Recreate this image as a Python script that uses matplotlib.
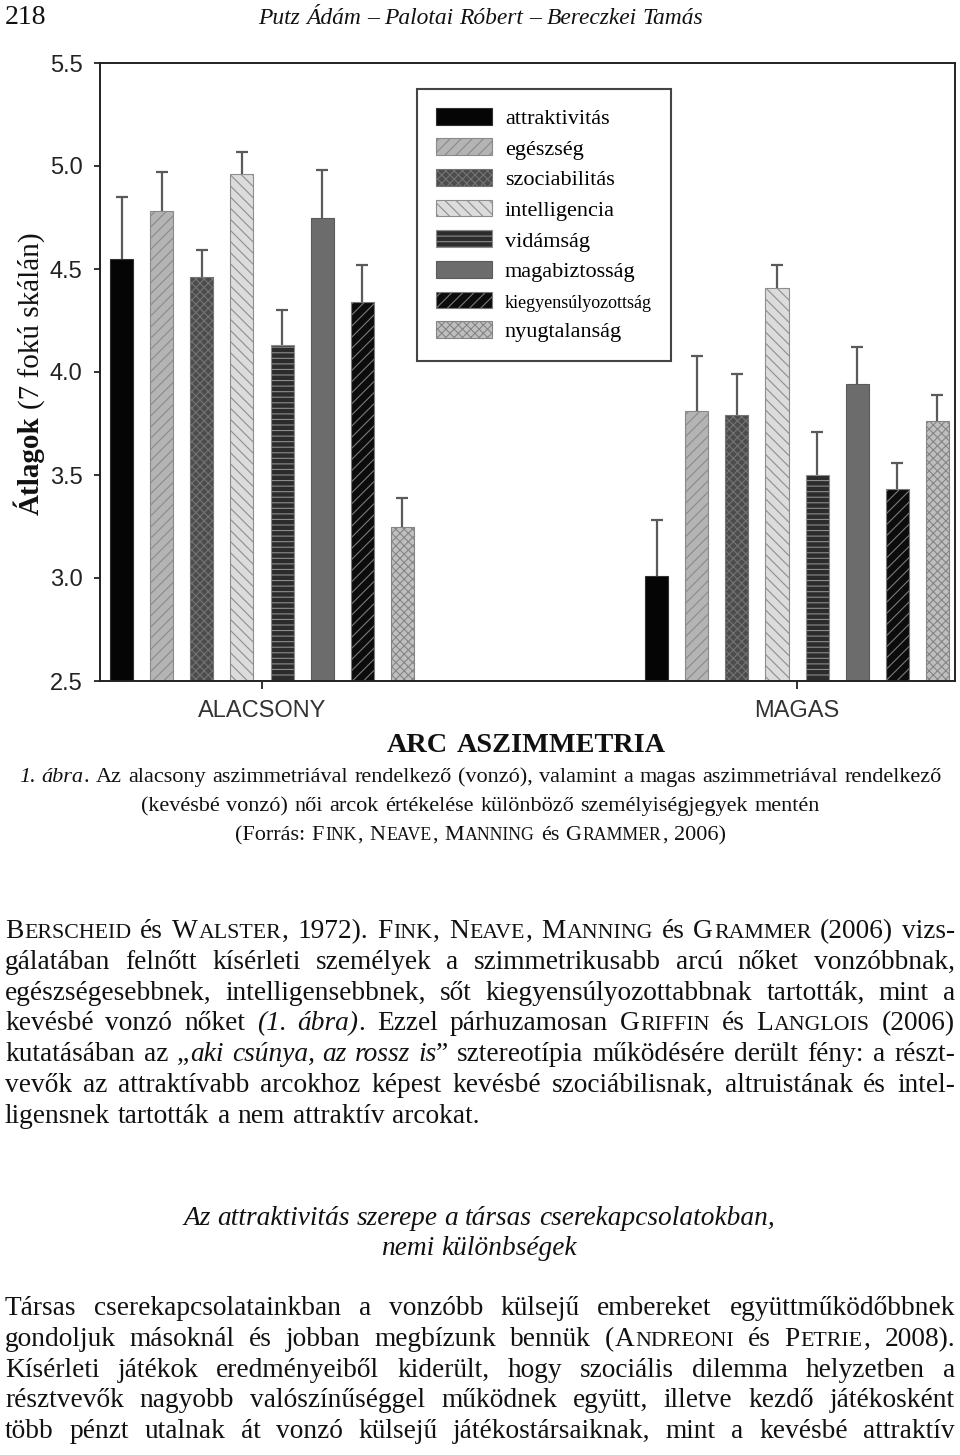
import matplotlib.pyplot as plt
from matplotlib import font_manager
import numpy as np

W, H = 960, 1455
PX = 100 / 72
SERIF = 'Liberation Serif'
SANS = 'Liberation Sans'
INK = '#111111'

# chart data
traits = ['attraktivitás', 'egészség', 'szociabilitás', 'intelligencia',
          'vidámság', 'magabiztosság', 'kiegyensúlyozottság', 'nyugtalanság']
groups = ['ALACSONY', 'MAGAS']
alacsony = [4.55, 4.78, 4.46, 4.96, 4.13, 4.75, 4.34, 3.25]
alacsony_err = [0.30, 0.19, 0.13, 0.11, 0.17, 0.23, 0.18, 0.14]
magas = [3.01, 3.81, 3.79, 4.41, 3.50, 3.94, 3.43, 3.76]
magas_err = [0.27, 0.27, 0.20, 0.11, 0.21, 0.18, 0.13, 0.13]
yticks = [2.5, 3.0, 3.5, 4.0, 4.5, 5.0, 5.5]

faces = ['#050505', '#b4b4b4', '#4c4c4c', '#dcdcdc', '#2c2c2c', '#6c6c6c', '#0c0c0c', '#bfbfbf']
hatch_cols = ['#303030', '#8a8a8a', '#747474', '#8e8e8e', '#8c8c8c', '#5a5a5a', '#7a7a7a', '#858585']
hatches = [None, '///', 'xxxx', '\\\\\\', '---', None, '///', 'xxxx']

# page text
N, I, SC = 'n', 'i', 'sc'
header = 'Putz Ádám – Palotai Róbert – Bereczkei Tamás'
caption = [
    [('1. ábra', I), ('. Az alacsony aszimmetriával rendelkező (vonzó), valamint a magas aszimmetriával rendelkező', N)],
    [('(kevésbé vonzó) női arcok értékelése különböző személyiségjegyek mentén', N)],
    [('(Forrás: ', N), ('Fink', SC), (', ', N), ('Neave', SC), (', ', N), ('Manning', SC), (' és ', N),
     ('Grammer', SC), (', 2006)', N)],
]
para1 = [
    [('Berscheid', SC), (' és ', N), ('Walster', SC), (', 1972). ', N), ('Fink', SC), (', ', N), ('Neave', SC),
     (', ', N), ('Manning', SC), (' és ', N), ('Grammer', SC), (' (2006) vizs-', N)],
    [('gálatában felnőtt kísérleti személyek a szimmetrikusabb arcú nőket vonzóbbnak,', N)],
    [('egészségesebbnek, intelligensebbnek, sőt kiegyensúlyozottabbnak tartották, mint a', N)],
    [('kevésbé vonzó nőket ', N), ('(1. ábra)', I), ('. Ezzel párhuzamosan ', N), ('Griffin', SC), (' és ', N),
     ('Langlois', SC), (' (2006)', N)],
    [('kutatásában az „', N), ('aki csúnya, az rossz is', I), ('” sztereotípia működésére derült fény: a részt-', N)],
    [('vevők az attraktívabb arcokhoz képest kevésbé szociábilisnak, altruistának és intel-', N)],
    [('ligensnek tartották a nem attraktív arcokat.', N)],
]
heading = ['Az attraktivitás szerepe a társas cserekapcsolatokban,', 'nemi különbségek']
para2 = [
    [('Társas cserekapcsolatainkban a vonzóbb külsejű embereket együttműködőbbnek', N)],
    [('gondoljuk másoknál és jobban megbízunk bennük (', N), ('Andreoni', SC), (' és ', N), ('Petrie', SC),
     (', 2008).', N)],
    [('Kísérleti játékok eredményeiből kiderült, hogy szociális dilemma helyzetben a', N)],
    [('résztvevők nagyobb valószínűséggel működnek együtt, illetve kezdő játékosként', N)],
    [('több pénzt utalnak át vonzó külsejű játékostársaiknak, mint a kevésbé attraktív', N)],
]

plt.rcParams['font.family'] = SANS
plt.rcParams['hatch.linewidth'] = 0.8

fig = plt.figure(figsize=(W / 100, H / 100), dpi=100)
renderer = fig.canvas.get_renderer()

# bar chart
ax = fig.add_axes([100 / W, 1 - 681 / H, 855 / W, 618 / H])
x = np.arange(len(groups))
step, bw = 0.0748, 0.043
values = np.array([alacsony, magas]).T
errs = np.array([alacsony_err, magas_err]).T
for i, name in enumerate(traits):
    pos = x + (i - 3.5) * step
    ax.errorbar(pos, values[i], yerr=errs[i], fmt='none', ecolor='#5a5a5a',
                elinewidth=1.6, capsize=4.3, capthick=1.6, zorder=1)
    ax.bar(pos, values[i], bw, color=faces[i], edgecolor=hatch_cols[i], hatch=hatches[i],
           linewidth=0.8, label=name, zorder=2)

ax.set_xlim(-0.3028, 1.2953)
ax.set_ylim(2.5, 5.5)
ax.set_yticks(yticks)
ax.set_yticklabels([f'{v:.1f}' for v in yticks])
ax.set_xticks(x)
for sp in ax.spines.values():
    sp.set_linewidth(1.4)
    sp.set_color('#222222')
ax.tick_params(axis='y', length=4.5, width=1.3, pad=8, labelsize=17, colors='#222222')
ax.tick_params(axis='x', length=6, width=1.3, pad=8, colors='#222222')

names = {f.name for f in font_manager.fontManager.ttflist}
if 'Liberation Sans Narrow' in names:
    ax.set_xticklabels(groups, family='Liberation Sans Narrow', fontsize=19, color='#333333')
else:
    ax.set_xticklabels(groups, family=SANS, fontsize=17, color='#333333')

leg = ax.legend(loc='upper left', bbox_to_anchor=(0.371, 0.958), borderaxespad=0,
                prop={'family': SERIF, 'size': 16}, handlelength=2.5, handleheight=0.78,
                handletextpad=0.6, labelspacing=0.43, borderpad=0.85, frameon=True,
                fancybox=False, edgecolor='#444444', framealpha=1)
leg.get_frame().set_linewidth(1.5)
leg.get_texts()[6].set_fontsize(13)


def make_words(segs, size):
    words = [[]]
    for txt, st in segs:
        for k, part in enumerate(txt.split(' ')):
            if k:
                words.append([])
            if not part:
                continue
            if st == SC:
                run, small = '', None
                for ch in part:
                    s = ch.islower()
                    if small is not None and s != small:
                        words[-1].append((run, size * (0.8 if small else 1), 'normal'))
                        run = ''
                    run += ch.upper() if s else ch
                    small = s
                words[-1].append((run, size * (0.8 if small else 1), 'normal'))
            else:
                words[-1].append((part, size, 'italic' if st == I else 'normal'))
    return [w for w in words if w]


def build(y, segs, size, weight):
    rows = []
    for w in make_words(segs, size):
        row = []
        for t, s, st in w:
            a = fig.text(0, 1 - y / H, t, fontsize=s, style=st, weight=weight, family=SERIF,
                         va='baseline', ha='left', color=INK)
            pad = 0.0 if st == 'italic' else 0.04
            row.append((a, a.get_window_extent(renderer).width + pad * s * PX))
        rows.append(row)
    return rows


def line_width(rows, size):
    return sum(wd for row in rows for _, wd in row) + 0.25 * size * PX * (len(rows) - 1)


def natural_width(segs, size):
    rows = build(0, segs, size, 'normal')
    nat = line_width(rows, size)
    for row in rows:
        for a, _ in row:
            a.remove()
    return nat


def draw_line(y, segs, size, left=None, right=None, center=None, width=None,
              justify=False, weight='normal'):
    rows = build(y, segs, size, weight)
    nat = line_width(rows, size)
    target = width if width else (right - left if justify else None)
    if target and (width or nat > target):
        for row in rows:
            for a, _ in row:
                a.remove()
        size *= target / nat
        rows = build(y, segs, size, weight)
        nat = line_width(rows, size)
    if justify and len(rows) > 1:
        gap = (right - left - sum(wd for row in rows for _, wd in row)) / (len(rows) - 1)
        xx = left
    else:
        gap = 0.25 * size * PX
        xx = left if center is None else center - nat / 2
    for row in rows:
        for a, wd in row:
            a.set_x(xx / W)
            xx += wd
        xx += gap
    return size


# axis titles
ylab = fig.text(39 / W, 1 - 515 / H, 'Átlagok', rotation=90, rotation_mode='anchor', ha='left',
                va='baseline', family=SERIF, weight='bold', fontsize=21, color=INK)
h = ylab.get_window_extent(renderer).height
fig.text(39 / W, 1 - (515 - h - 7) / H, '(7 fokú skálán)', rotation=90, rotation_mode='anchor',
         ha='left', va='baseline', family=SERIF, fontsize=21, color=INK)
draw_line(752, [('ARC ASZIMMETRIA', N)], 20, center=527, width=279, weight='bold')

# page header
draw_line(24, [('218', N)], 20, left=5)
draw_line(24, [(header, I)], 18, center=481, width=446)

# caption
cs = draw_line(782, caption[0], 17, center=481, width=927)
draw_line(811, caption[1], cs, center=481)
draw_line(840, caption[2], cs, center=481)

# body text: font size so that the tightest justified line nearly fills the measure
base = 18
widest = max(natural_width(s, base) for s in para1[:-1] + para2)
body = base * 944 / widest

for k, segs in enumerate(para1):
    draw_line(938 + 30.8 * k, segs, body, left=5, right=956, justify=k < len(para1) - 1)

hs = draw_line(1225, [(heading[0], I)], 18, center=479, width=592)
draw_line(1255, [(heading[1], I)], hs, center=479)

for k, segs in enumerate(para2):
    draw_line(1315 + 30.8 * k, segs, body, left=5, right=956, justify=True)

fig.savefig('out.png', dpi=100)
